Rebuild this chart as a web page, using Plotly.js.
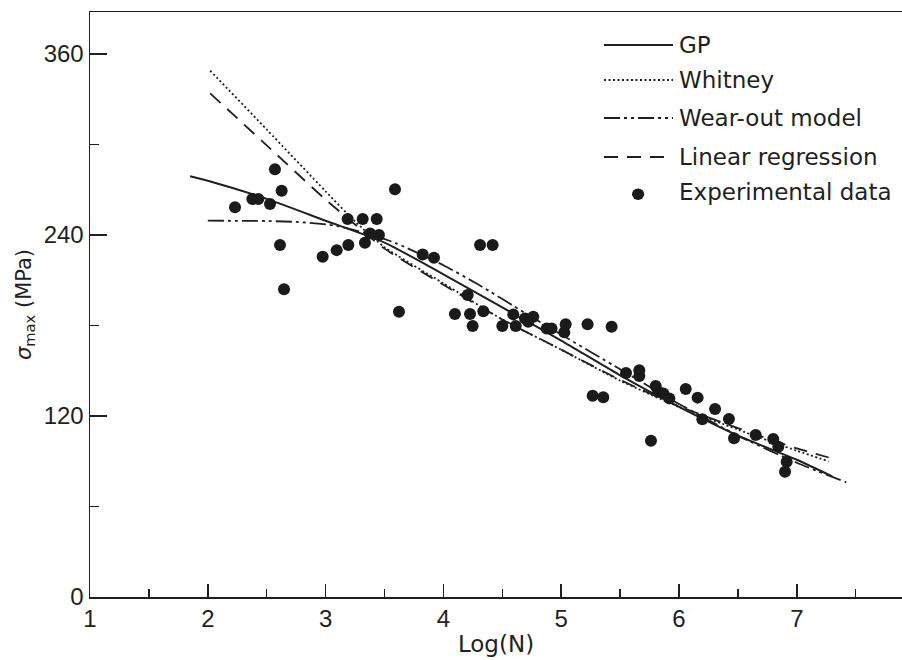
<!DOCTYPE html>
<html>
<head>
<meta charset="utf-8">
<script src="https://cdn.plot.ly/plotly-3.0.1.min.js"></script>
<style>html,body{margin:0;padding:0;background:#fff;}#chart{width:902px;height:660px;}</style>
</head>
<body>
<div id="chart"></div>
<script>
// Experimental data
const expX = [2.231, 2.378, 2.429, 2.528, 2.570, 2.627, 2.613, 2.647, 2.975, 3.094, 3.193, 3.187, 3.315, 3.434, 3.334, 3.377, 3.453, 3.589, 3.623, 3.824, 3.920, 4.311, 4.418, 4.206, 4.098, 4.226, 4.339, 4.248, 4.500, 4.593, 4.614, 4.693, 4.763, 4.720, 4.877, 4.918, 5.038, 5.026, 5.224, 5.428, 5.550, 5.663, 5.663, 5.267, 5.357, 5.802, 5.824, 5.867, 5.918, 5.762, 6.057, 6.158, 6.198, 6.306, 6.424, 6.467, 6.651, 6.800, 6.843, 6.914, 6.900];
const expY = [258.4, 263.9, 263.9, 260.6, 283.6, 269.4, 233.4, 204.0, 225.6, 230.0, 233.4, 250.6, 250.6, 250.6, 234.9, 241.1, 240.0, 270.3, 189.2, 227.1, 225.0, 233.4, 233.4, 200.2, 187.6, 187.6, 189.4, 179.7, 179.7, 187.4, 179.7, 184.6, 185.8, 182.5, 178.0, 178.0, 180.8, 175.5, 180.8, 179.2, 148.5, 150.3, 146.6, 133.5, 132.4, 139.9, 136.1, 135.0, 131.7, 103.6, 137.9, 132.2, 117.8, 124.6, 118.0, 105.2, 107.4, 104.8, 99.7, 89.7, 83.1];

// GP model
const gpX = [1.85, 2.0, 2.5, 3.0, 3.5, 4.0, 4.5, 5.0, 5.5, 6.0, 6.5, 7.0, 7.3];
const gpY = [279, 276, 264, 249.5, 235, 214, 192, 170, 147, 126, 107, 91, 80];

// Whitney model
const whX = [2.02, 2.5, 3.0, 3.25, 3.5, 4.0, 4.5, 5.0, 5.5, 6.0, 6.5, 7.0, 7.27];
const whY = [349, 310, 269, 249, 232, 208, 184, 164, 143.5, 126, 111, 97, 90];

// Wear-out model
const woX = [2.0, 2.5, 2.8, 3.1, 3.4, 3.6, 4.0, 4.3, 4.7, 5.0, 5.5, 6.0, 6.5, 7.0, 7.42];
const woY = [249.5, 249.3, 248.5, 246, 240, 234.5, 220, 207, 188, 174, 151, 128, 107, 89, 76];

// Linear regression
const lrX = [2.02, 2.5, 3.0, 3.25, 3.5, 4.0, 4.5, 5.0, 5.5, 6.0, 6.5, 7.0, 7.27];
const lrY = [334, 299.5, 263.5, 247, 231, 207, 184, 164, 144, 126.5, 112, 98.5, 92.5];

// Axis ticks
const xTicks = [1, 2, 3, 4, 5, 6, 7];
const xMinor = [1.5, 2.5, 3.5, 4.5, 5.5, 6.5, 7.5];
const yTicks = [0, 120, 240, 360];
const yMinor = [60, 180, 300];

const legendNames = ['GP', 'Whitney', 'Wear-out model', 'Linear regression', 'Experimental data'];

const ink = '#231f20';
const dashGP = 'solid';
const dashWh = '2px,2.5px';
const dashWo = '16px,4px,3px,4px,3px,4px';
const dashLr = '14px,9px';

const traces = [
  {x: gpX, y: gpY, mode: 'lines', line: {color: ink, width: 2, dash: dashGP, shape: 'spline', smoothing: 0.6}, name: legendNames[0]},
  {x: whX, y: whY, mode: 'lines', line: {color: ink, width: 1.8, dash: dashWh, shape: 'spline', smoothing: 0.6}, name: legendNames[1]},
  {x: woX, y: woY, mode: 'lines', line: {color: ink, width: 1.8, dash: dashWo, shape: 'spline', smoothing: 0.6}, name: legendNames[2]},
  {x: lrX, y: lrY, mode: 'lines', line: {color: ink, width: 1.8, dash: dashLr, shape: 'spline', smoothing: 0.6}, name: legendNames[3]},
  {x: expX, y: expY, mode: 'markers', marker: {color: '#1a1a1a', size: 12}, name: legendNames[4]}
];

// custom legend (paper coordinates)
const legX0 = 0.633, legX1 = 0.718, legTextX = 0.723;
const legRows = [0.9436, 0.8838, 0.8188, 0.7521, 0.6923];
const legDashes = [dashGP, dashWh, dashWo, dashLr];
const shapes = [];
for (let i = 0; i < 4; i++) {
  shapes.push({type: 'line', xref: 'paper', yref: 'paper', x0: legX0, x1: legX1, y0: legRows[i], y1: legRows[i],
    line: {color: ink, width: i === 0 ? 2 : 1.8, dash: legDashes[i]}});
}
shapes.push({type: 'circle', xref: 'paper', yref: 'paper', x0: 0.6675, x1: 0.6825, y0: 0.6785, y1: 0.6985,
  fillcolor: '#1a1a1a', line: {width: 0}});
const annotations = legendNames.map((t, i) => ({
  xref: 'paper', yref: 'paper', x: legTextX, y: legRows[i], xanchor: 'left', yanchor: 'middle',
  text: t, showarrow: false, font: {family: 'DejaVu Sans', size: 23, color: ink}
}));

const layout = {
  width: 902, height: 660,
  margin: {l: 90, r: 0, t: 12, b: 63},
  paper_bgcolor: '#fff', plot_bgcolor: '#fff',
  showlegend: false,
  xaxis: {
    range: [1, 7.893], tickvals: xTicks, ticks: 'inside', ticklen: 13, tickwidth: 1.5, tickcolor: ink,
    showline: true, linewidth: 1.5, linecolor: ink, mirror: true, showgrid: false, zeroline: false,
    minor: {tickvals: xMinor, ticks: 'inside', ticklen: 8, tickwidth: 1.5, tickcolor: ink, showgrid: false},
    tickfont: {family: 'Liberation Sans', size: 24, color: ink},
    title: {text: 'Log(N)', font: {family: 'DejaVu Sans', size: 23, color: ink}, standoff: 4}
  },
  yaxis: {
    range: [0, 387.9], tickvals: yTicks, ticks: 'inside', ticklen: 17, tickwidth: 1.5, tickcolor: ink,
    showline: true, linewidth: 1.5, linecolor: ink, showgrid: false, zeroline: false,
    minor: {tickvals: yMinor, ticks: 'inside', ticklen: 9, tickwidth: 1.5, tickcolor: ink, showgrid: false},
    tickfont: {family: 'Liberation Sans', size: 24, color: ink},
    title: {text: '<i>σ</i><sub>max</sub> (MPa)', font: {family: 'DejaVu Sans', size: 21, color: ink}, standoff: 6}
  },
  shapes: shapes,
  annotations: annotations
};

Plotly.newPlot('chart', traces, layout, {displayModeBar: false, staticPlot: true});
</script>
</body>
</html>
